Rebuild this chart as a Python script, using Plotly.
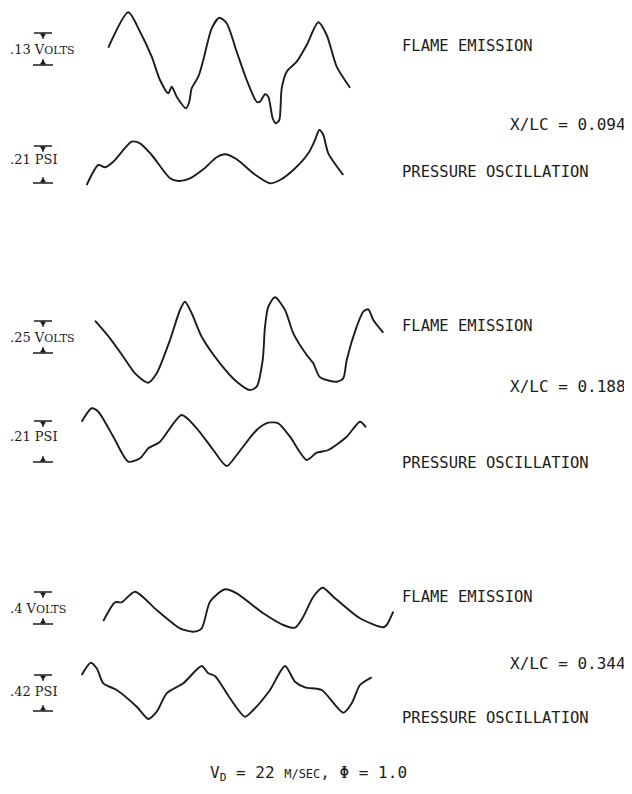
import plotly.graph_objects as go

# Page offset: the browser page places the figure 8px from the top-left corner
OFF = 8
W, H = 624, 778

# ---- Data: oscilloscope traces (time in arbitrary units, amplitude in arbitrary units above trace minimum) ----
# Panel 1: X/LC = 0.094
flame1_t = [108.3, 128.3, 140, 151.7, 160, 168.3, 171.7, 176.7, 186, 189.3, 191.7, 198.3, 203.3, 211.7, 219.3,
            226.7, 236.7, 246.7, 256.7, 260, 265, 268.3, 272.7, 276, 279.3, 281.7, 286.7, 296.7, 306.7, 318.3,
            326.7, 336.7, 350]
flame1_a = [77.3, 112.7, 93.3, 68.3, 45, 31.7, 38.3, 28.3, 16.7, 23.3, 36.7, 48.3, 65, 96.7, 107.3,
            101.7, 73.3, 45, 23.3, 23.3, 30.7, 28.3, 6.7, 1.7, 5, 36.7, 53.3, 63.3, 80, 102.7,
            90, 58.3, 37.3]
press1_t = [86.7, 98.3, 105, 113.3, 131.7, 140, 151.7, 170, 178.3, 190, 203.3, 216.7, 225, 236.7, 253.3,
            270, 280, 293.3, 308.3, 315, 319.3, 323.3, 328.3, 343.3]
press1_a = [1, 21, 18.7, 24.3, 44.3, 42.7, 31, 7.7, 5, 7.7, 16.7, 28.7, 31.7, 26.7, 12.7,
            2.7, 6, 16, 32.7, 46, 56, 51, 32.7, 11]

# Panel 2: X/LC = 0.188
flame2_t = [95, 110, 123.3, 135, 148.3, 156.7, 170, 180, 185, 191.7, 201.7, 220, 236.7, 250, 256.7,
            262.7, 265, 268.3, 275, 285, 293.3, 306.7, 313.3, 320, 336.7, 343.3, 346.7, 356.7, 363.3, 368.3,
            373.3, 383.3]
flame2_a = [71.3, 53.7, 35.3, 18.7, 9.3, 18.7, 52, 82, 90.3, 78.7, 55.3, 28.7, 10.3, 2, 5.3,
            32, 65.3, 85.3, 94.7, 82, 58.7, 37, 28.7, 14.7, 10.3, 13.7, 32, 65.3, 80.3, 82.7,
            72, 59.3]
press2_t = [81.7, 91.7, 98.3, 113.3, 128.3, 140, 148.3, 160, 181.7, 196.7, 213.3, 226.7, 236.7, 256.7, 268.3,
            278.3, 290, 306.7, 316.7, 328.3, 346.7, 360, 366]
press2_a = [46.3, 59.7, 56.3, 31.3, 6.3, 9.7, 19.7, 26.3, 53, 39.7, 18, 2, 13, 38, 45.3,
            44.7, 31.3, 8, 15.3, 18, 31.3, 46.3, 40.7]

# Panel 3: X/LC = 0.344
flame3_t = [103.3, 115, 121.7, 135, 156.7, 180, 193.3, 201.7, 210, 225, 236.7, 263.3, 283.3, 295, 303.3,
            313.3, 322.7, 333.3, 360, 383.3, 386.7, 393.3]
flame3_a = [12, 30.7, 30.7, 41.3, 23, 4.7, 1.3, 4.7, 31.3, 43.7, 39.7, 19.7, 8, 5.3, 16.3,
            36.3, 45.3, 36.3, 14.7, 5.7, 8, 21.3]
press3_t = [81.7, 90.7, 96.7, 103.3, 116.7, 136.7, 148.3, 156.7, 166.7, 183.3, 201.7, 208.3, 215, 230, 245,
            253.3, 270, 285, 295, 305, 321.7, 343.3, 351.7, 360, 371.7]
press3_a = [46, 58.3, 52.7, 37.7, 31, 14.3, 2, 9.3, 27.7, 37.7, 55, 47.7, 45, 22.7, 4.3,
            11, 31, 55, 39.3, 33.7, 31, 8.3, 17.7, 36, 43.7]

positions = ["0.094", "0.188", "0.344"]
volt_scales = [".13", ".25", ".4"]
psi_scales = [".21", ".21", ".42"]
footer = "V<sub>D</sub> = 22 <span style='font-size:12px'>M/SEC</span>, Φ = 1.0"

series = [(flame1_t, flame1_a), (press1_t, press1_a),
          (flame2_t, flame2_a), (press2_t, press2_a),
          (flame3_t, flame3_a), (press3_t, press3_a)]

# ---- Layout helpers (page-pixel placement of each trace band) ----
bands = [(10, 125), (128, 186), (295, 392), (406, 468), (585, 633), (660, 721)]


def px(x):
    return (x - OFF) / W


def py(y):
    return 1 - (y - OFF) / H


fig = go.Figure()
INK = "#1c1c1c"

for i, ((t, a), (top, bot)) in enumerate(zip(series, bands)):
    yname = "y" if i == 0 else f"y{i+1}"
    fig.add_trace(go.Scatter(x=t, y=a, mode="lines", xaxis="x", yaxis=yname,
                             line=dict(color=INK, width=1.9, shape="spline", smoothing=0.7),
                             showlegend=False, hoverinfo="skip"))
    key = "yaxis" if i == 0 else f"yaxis{i+1}"
    fig.layout[key] = dict(domain=[py(bot), py(top)], range=[0, bot - top], visible=False,
                           anchor="x", fixedrange=True)

fig.update_layout(
    width=W, height=H, margin=dict(l=0, r=0, t=0, b=0),
    paper_bgcolor="white", plot_bgcolor="white",
    xaxis=dict(range=[OFF, OFF + W], domain=[0, 1], visible=False, fixedrange=True),
)

SANS = "DejaVu Sans Mono"
SERIF = "DejaVu Serif"

# right-hand labels
label_rows = [(46, 124, 172), (326, 386, 463), (597, 663, 718)]
anns = []
for (yf, yx, yp), pos in zip(label_rows, positions):
    anns.append(dict(x=px(400), y=py(yf), xref="paper", yref="paper", text="FLAME EMISSION",
                     showarrow=False, xanchor="left", yanchor="middle",
                     font=dict(family=SANS, size=15.5, color=INK)))
    anns.append(dict(x=px(628), y=py(yx), xref="paper", yref="paper", text=f"X/LC = {pos}",
                     showarrow=False, xanchor="right", yanchor="middle",
                     font=dict(family=SANS, size=16, color=INK)))
    anns.append(dict(x=px(400), y=py(yp), xref="paper", yref="paper", text="PRESSURE OSCILLATION",
                     showarrow=False, xanchor="left", yanchor="middle",
                     font=dict(family=SANS, size=15.5, color=INK)))

# scale markers on the left
VOLT_TXT = " V<span style='font-size:11px'>OLTS</span>"
scale_rows = [(33, 49, 65, volt_scales[0] + VOLT_TXT), (146, 160, 183, psi_scales[0] + " PSI"),
              (321, 337, 353, volt_scales[1] + VOLT_TXT), (421, 437, 462, psi_scales[1] + " PSI"),
              (592, 608, 624, volt_scales[2] + VOLT_TXT), (675, 691, 711, psi_scales[2] + " PSI")]
shapes = []
cx = 43
for (yt, ym, yb, txt) in scale_rows:
    anns.append(dict(x=px(8), y=py(ym), xref="paper", yref="paper", text=txt,
                     showarrow=False, xanchor="left", yanchor="middle",
                     font=dict(family=SERIF, size=13, color=INK)))
    # top bar + downward arrow
    shapes.append(dict(type="line", xref="paper", yref="paper", x0=px(cx - 9), x1=px(cx + 9),
                       y0=py(yt), y1=py(yt), line=dict(color=INK, width=1.5)))
    shapes.append(dict(type="line", xref="paper", yref="paper", x0=px(cx), x1=px(cx),
                       y0=py(yt), y1=py(yt + 6), line=dict(color=INK, width=1.2)))
    shapes.append(dict(type="path", xref="paper", yref="paper",
                       path=f"M {px(cx-2.5)} {py(yt+1)} L {px(cx+2.5)} {py(yt+1)} L {px(cx)} {py(yt+5)} Z",
                       fillcolor=INK, line=dict(color=INK, width=0.5)))
    # bottom bar + upward arrow
    shapes.append(dict(type="line", xref="paper", yref="paper", x0=px(cx - 10), x1=px(cx + 10),
                       y0=py(yb), y1=py(yb), line=dict(color=INK, width=1.5)))
    shapes.append(dict(type="line", xref="paper", yref="paper", x0=px(cx), x1=px(cx),
                       y0=py(yb), y1=py(yb - 6), line=dict(color=INK, width=1.2)))
    shapes.append(dict(type="path", xref="paper", yref="paper",
                       path=f"M {px(cx-2.5)} {py(yb-1)} L {px(cx+2.5)} {py(yb-1)} L {px(cx)} {py(yb-5)} Z",
                       fillcolor=INK, line=dict(color=INK, width=0.5)))

anns.append(dict(x=px(308), y=py(773), xref="paper", yref="paper", text=footer,
                 showarrow=False, xanchor="center", yanchor="middle",
                 font=dict(family=SANS, size=16, color=INK)))

fig.update_layout(annotations=anns, shapes=shapes)
fig.write_html("out.html")
